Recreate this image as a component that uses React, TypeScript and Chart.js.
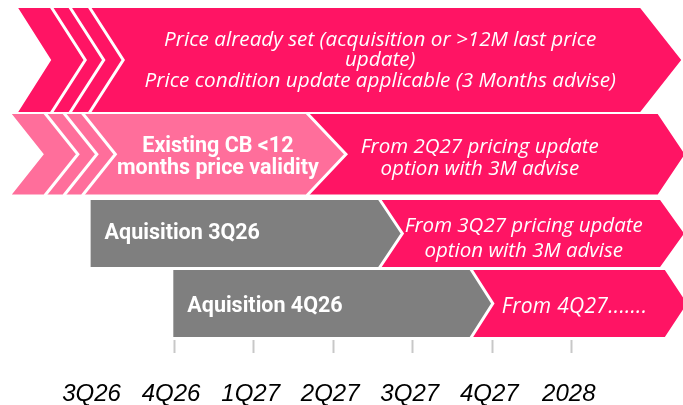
import { useEffect, useRef } from "react";
import { Chart, registerables } from "chart.js";

Chart.register(...registerables);

// ---------- data ----------
const QUARTERS = ["3Q26", "4Q26", "1Q27", "2Q27", "3Q27", "4Q27", "2028"];
const ROWS = ["Price already set", "Existing CB", "Aquisition 3Q26", "Aquisition 4Q26"];

// segment boundaries (timeline units, 0 = 3Q26) for each row
const ROW1_BOUNDS = [-0.96, 6.86];
const ROW2_BOUNDS = [-1.04, 2.67, 7.08];
const ROW3_BOUNDS = [-0.05, 3.58, 7.11];
const ROW4_BOUNDS = [0.99, 4.73, 7.17];

const ROW1_TEXT = [
  ["Price already set (acquisition or >12M last price", "update)", "Price condition update applicable (3 Months advise)"],
];
const ROW2_TEXT = [
  ["Existing CB <12", "months price validity"],
  ["From 2Q27 pricing update", "option with 3M advise"],
];
const ROW3_TEXT = [["Aquisition 3Q26"], ["From 3Q27 pricing update", "option with 3M advise"]];
const ROW4_TEXT = [["Aquisition 4Q26"], ["From 4Q27......."]];

// ---------- style ----------
const PINK = "#FF1464";
const LIGHT = "#FF6E9B";
const GRAY = "#7F7F7F";
const ITALIC_S = "italic 20.7px 'Open Sans'";
const ITALIC_L = "italic 20.5px 'Open Sans'";
const ITALIC_X = "italic 21px 'Open Sans'";
const BOLD = "bold 21.5px Roboto";

type TextStyle = { align: "center" | "left"; dx: number; dy: number; font: string; lh: number; ls: number };
type RowStyle = {
  band: [number, number];
  colors: string[];
  tips: number[];
  notch: number;
  stripes: number[];
  text: TextStyle[];
};

const ROW_STYLES: RowStyle[] = [
  {
    band: [0, 104],
    colors: [PINK],
    tips: [41],
    notch: 33,
    stripes: [33, 51.5, 71],
    text: [{ align: "center", dx: 51, dy: 0.5, font: ITALIC_S, lh: 20.5, ls: 0 }],
  },
  {
    band: [106, 186.5],
    colors: [LIGHT, PINK],
    tips: [39, 27],
    notch: 32,
    stripes: [33, 52, 70.5],
    text: [
      { align: "center", dx: 58.5, dy: 3.5, font: BOLD, lh: 22, ls: 0 },
      { align: "center", dx: -2.5, dy: 3.5, font: ITALIC_L, lh: 22, ls: 0 },
    ],
  },
  {
    band: [192, 259],
    colors: [GRAY, PINK],
    tips: [23, 24],
    notch: 0,
    stripes: [],
    text: [
      { align: "left", dx: 14, dy: 0, font: BOLD, lh: 25, ls: 0 },
      { align: "center", dx: 4, dy: 5, font: ITALIC_L, lh: 25, ls: 0 },
    ],
  },
  {
    band: [262, 329],
    colors: [GRAY, PINK],
    tips: [22, 22],
    notch: 0,
    stripes: [],
    text: [
      { align: "left", dx: 14, dy: 3.5, font: BOLD, lh: 25, ls: 0 },
      { align: "left", dx: 31, dy: 3.5, font: ITALIC_X, lh: 25, ls: 0.3 },
    ],
  },
];

const ROW_BOUNDS = [ROW1_BOUNDS, ROW2_BOUNDS, ROW3_BOUNDS, ROW4_BOUNDS];
const ROW_TEXT = [ROW1_TEXT, ROW2_TEXT, ROW3_TEXT, ROW4_TEXT];

const X_MIN = -1.189;
const X_MAX = 7.398;

const chevronPlugin = {
  id: "chevrons",
  afterDraw(chart: any) {
    const ctx = chart.ctx as any;
    const xs = chart.scales.x;
    const ys = chart.scales.y;
    ctx.save();
    ROWS.forEach((_, r) => {
      const st = ROW_STYLES[r];
      const bounds = ROW_BOUNDS[r];
      const top = ys.getPixelForValue(st.band[0]);
      const bottom = ys.getPixelForValue(st.band[1]);
      const mid = (top + bottom) / 2;
      const px = bounds.map((v) => xs.getPixelForValue(v));
      for (let i = 0; i < px.length - 1; i++) {
        const x0 = px[i];
        const x1 = px[i + 1];
        const tip = st.tips[i];
        const left = i === 0 ? st.notch : st.tips[i - 1];
        ctx.beginPath();
        ctx.moveTo(x0, top);
        ctx.lineTo(x1, top);
        ctx.lineTo(x1 + tip, mid);
        ctx.lineTo(x1, bottom);
        ctx.lineTo(x0, bottom);
        ctx.lineTo(x0 + left, mid);
        ctx.closePath();
        ctx.fillStyle = st.colors[i];
        ctx.fill();
      }
      ctx.strokeStyle = "#FFFFFF";
      ctx.lineWidth = 3;
      ctx.lineJoin = "miter";
      const sep = (x: number, d: number) => {
        ctx.beginPath();
        ctx.moveTo(x, top - 1);
        ctx.lineTo(x + d, mid);
        ctx.lineTo(x, bottom + 1);
        ctx.stroke();
      };
      st.stripes.forEach((o) => sep(px[0] + o, st.notch + 1));
      for (let i = 1; i < px.length - 1; i++) sep(px[i], st.tips[i - 1]);
      ctx.fillStyle = "#FFFFFF";
      ctx.textBaseline = "middle";
      ROW_TEXT[r].forEach((lines, i) => {
        const ts = st.text[i];
        const x0 = px[i];
        const x1 = px[i + 1];
        ctx.font = ts.font;
        ctx.letterSpacing = ts.ls + "px";
        let tx: number;
        if (ts.align === "center") {
          ctx.textAlign = "center";
          tx = (x0 + x1) / 2 + ts.dx;
        } else {
          ctx.textAlign = "left";
          tx = x0 + ts.dx;
        }
        const startY = mid + ts.dy - ((lines.length - 1) * ts.lh) / 2;
        lines.forEach((line, k) => ctx.fillText(line, tx, startY + k * ts.lh));
      });
      ctx.letterSpacing = "0px";
    });
    ctx.restore();
  },
};

export default function App() {
  const ref = useRef<HTMLCanvasElement | null>(null);
  useEffect(() => {
    if (!ref.current) return;
    const chart = new Chart(ref.current, {
      type: "scatter",
      data: { datasets: [] },
      options: {
        animation: false,
        responsive: false,
        layout: { padding: { top: 8, left: 0, right: 0, bottom: 0 } },
        plugins: { legend: { display: false }, tooltip: { enabled: false } },
        scales: {
          x: {
            type: "linear",
            min: X_MIN,
            max: X_MAX,
            afterBuildTicks: (s: any) => {
              s.ticks = QUARTERS.map((_, i) => ({ value: i }));
            },
            afterFit: (s: any) => {
              s.height = 65;
            },
            ticks: {
              callback: (v: any) => QUARTERS[Math.round(Number(v))] ?? "",
              font: { family: "Liberation Sans", size: 24, style: "italic" },
              color: "#000000",
              padding: 27,
              labelOffset: -3,
              autoSkip: false,
              maxRotation: 0,
            },
            grid: {
              drawOnChartArea: false,
              drawTicks: true,
              tickLength: 13,
              tickWidth: 2,
              tickColor: (c: any) => (c.index === 0 ? "rgba(0,0,0,0)" : "#C8C8C8"),
            },
            border: { display: false },
          },
          y: { type: "linear", display: false, min: 0, max: 332, reverse: true },
        },
      },
      plugins: [chevronPlugin],
    } as any);
    return () => chart.destroy();
  }, []);
  return (
    <div style={{ position: "fixed", left: 0, top: 0, width: 683, height: 405, background: "#fff" }}>
      <canvas ref={ref} width={683} height={405} style={{ display: "block" }} />
    </div>
  );
}
